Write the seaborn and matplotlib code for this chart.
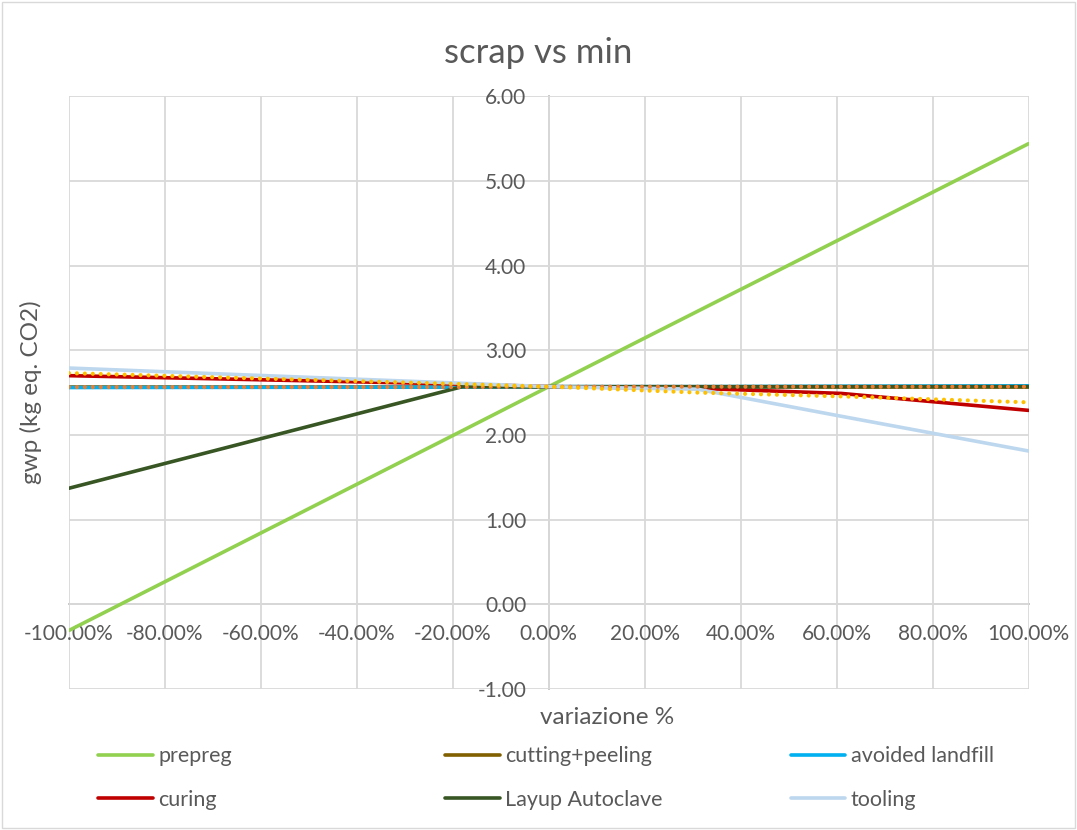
import matplotlib
matplotlib.use('Agg')
import matplotlib.pyplot as plt
import seaborn as sns
import numpy as np
from matplotlib.patches import Rectangle

# variation points (%)
variazione = [-100, -18, 0, 31, 61, 100]

# gwp values per series (kg eq. CO2)
prepreg = [-0.31, 2.05, 2.57, 3.46, 4.32, 5.44]
cutting_peeling = [2.57, 2.57, 2.57, 2.57, 2.57, 2.57]
avoided_landfill = [2.56, 2.565, 2.57, 2.57, 2.575, 2.58]
curing = [2.70, 2.60, 2.57, 2.55, 2.49, 2.29]
layup_autoclave = [1.37, 2.57, 2.57, 2.57, 2.57, 2.57]
tooling = [2.79, 2.61, 2.57, 2.54, 2.22, 1.81]
extra_orange = [2.565, 2.565, 2.57, 2.57, 2.57, 2.57]
extra_yellow = [2.73, 2.60, 2.57, 2.50, 2.455, 2.385]

x_ticks = [-100, -80, -60, -40, -20, 0, 20, 40, 60, 80, 100]
y_ticks = [-1, 0, 1, 2, 3, 4, 5, 6]

sns.set_theme(style='white')
plt.rcParams['font.family'] = ['Lato', 'DejaVu Sans']
txt = '#595959'
grid_c = '#d9d9d9'

fig = plt.figure(figsize=(10.77, 8.30), dpi=100)
ax = fig.add_axes([0.064, 0.170, 0.891, 0.714])

lw = 2.6
series = [
    (prepreg, '#92D050', 'prepreg'),
    (cutting_peeling, '#806000', 'cutting+peeling'),
    (avoided_landfill, '#00B0F0', 'avoided landfill'),
    (curing, '#C00000', 'curing'),
    (layup_autoclave, '#375623', 'Layup Autoclave'),
    (tooling, '#BDD7EE', 'tooling'),
]
handles = {}
for vals, col, lab in series:
    sns.lineplot(x=variazione, y=vals, color=col, linewidth=lw, ax=ax, label=lab)
    handles[lab] = ax.lines[-1]

# two unnamed dotted series
for vals, col in [(extra_orange, '#ED7D31'), (extra_yellow, '#FFC000')]:
    sns.lineplot(x=variazione, y=vals, color=col, linewidth=3.0, ax=ax,
                 linestyle=(0, (0.01, 1.9)), dash_capstyle='round')

ax.get_legend().remove()

ax.set_xlim(-100, 100)
ax.set_ylim(-1, 6)
ax.set_xticks(x_ticks)
ax.set_yticks(y_ticks)
ax.set_xticklabels(['{:.2f}%'.format(v) for v in x_ticks])
ax.set_yticklabels(['{:.2f}'.format(v) for v in y_ticks])
ax.tick_params(length=0, labelsize=15, colors=txt)
ax.tick_params(axis='y', pad=16)
ax.tick_params(axis='x', pad=14)

ax.grid(True, color=grid_c, linewidth=1.3)
for gl in ax.get_xgridlines() + ax.get_ygridlines():
    gl.set_clip_on(False)
ax.set_axisbelow(True)

for side in ['left', 'bottom']:
    ax.spines[side].set_position(('data', 0))
    ax.spines[side].set_color('#bfbfbf')
    ax.spines[side].set_linewidth(1.3)
    ax.spines[side].set_zorder(0.5)
ax.spines['top'].set_visible(False)
ax.spines['right'].set_visible(False)
ax.set_xlabel('')
ax.set_ylabel('')

fig.text(0.5, 0.936, 'scrap vs min', ha='center', va='center', fontsize=25, color=txt)
fig.text(0.564, 0.135, 'variazione %', ha='center', va='center', fontsize=17.5, color=txt)
fig.text(0.029, 0.527, 'gwp (kg eq. CO2)', ha='center', va='center', rotation=90,
         fontsize=17.5, color=txt)

# legend laid out as 3 columns x 2 rows
cols = [(0.091, ['prepreg', 'curing']),
        (0.413, ['cutting+peeling', 'Layup Autoclave']),
        (0.734, ['avoided landfill', 'tooling'])]
for x0, labs in cols:
    leg = fig.legend([handles[k] for k in labs], labs, loc='upper left',
                     bbox_to_anchor=(x0, 0.101), frameon=False, fontsize=15.5,
                     labelcolor=txt, handlelength=2.55, handletextpad=0.25,
                     labelspacing=1.1, borderaxespad=0, borderpad=0)

fig.patches.append(Rectangle((0.002, 0.002), 0.996, 0.996, transform=fig.transFigure,
                             fill=False, edgecolor=grid_c, linewidth=1))

fig.savefig('out.png', dpi=100)
